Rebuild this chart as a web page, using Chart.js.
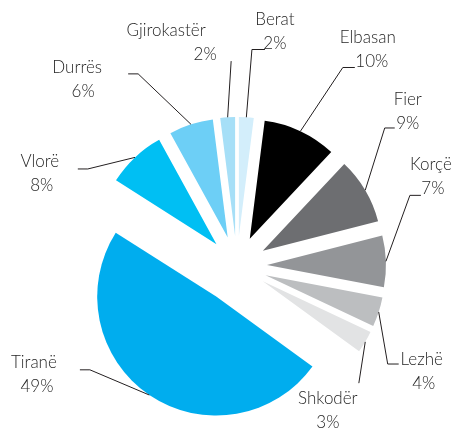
<!DOCTYPE html>
<html>
<head>
<meta charset="utf-8">
<script src="https://cdn.jsdelivr.net/npm/chart.js@4.4.0/dist/chart.umd.min.js"></script>
<style>
  html, body { margin: 0; padding: 0; background: #fff; }
  #wrap { width: 455px; height: 434px; }
</style>
</head>
<body>
<div id="wrap"><canvas id="myChart" width="455" height="434"></canvas></div>
<script>
const qarqet = ["Berat", "Elbasan", "Fier", "Korçë", "Lezhë", "Shkodër", "Tiranë", "Vlorë", "Durrës", "Gjirokastër"];
const perqindje = [2, 10, 9, 7, 4, 3, 49, 8, 6, 2];

const ngjyrat = ['#d3eefb', '#000000', '#6d6e71', '#939598', '#bcbec0', '#e2e3e4',
                 '#00adee', '#00bff3', '#6dcff6', '#a6dff7'];

// sa larg nga qendra del cdo pjese
function shkeputja(i) { return qarqet[i] === 'Tiranë' ? 37 : 30; }

// vendosja e etiketave: [kendi i berrylit, rrezja, vija horizontale, dx emri, dy emri, dx perqindja]
const etiketat = [
  [4, 187, 13, 10, -30, 10],
  [28.5, 195, 12, 13, -30, 17],
  [44.8, 173, 10, 13, -28, 13],
  [64, 159, 11, 10, -31, 12],
  [126, 151, 11, 23, -5, 25],
  [136.7, 140, 0, -31, 15, -31],
  [239.9, 146, -10, -46, -7, -43],
  [300.3, 149, -10, -38, -7, -36],
  [331.3, 186.5, -10, -51, -6, -45],
  [358.7, 175, 0, -65, -31, -26]
];

// offset-i i Chart.js v4 ndryshon edhe rrezen, keshtu qe e zhvendosim vete
const vizatoOrigjinal = Chart.ArcElement.prototype.draw;
Chart.ArcElement.prototype.draw = function(ctx) {
  const d = shkeputja(this.$context.dataIndex);
  const mid = (this.startAngle + this.endAngle) / 2;
  ctx.save();
  ctx.translate(Math.cos(mid) * d, Math.sin(mid) * d);
  vizatoOrigjinal.call(this, ctx);
  ctx.restore();
};

const pluginEtiketat = {
  id: 'etiketat',
  afterDatasetsDraw(chart) {
    const ctx = chart.ctx;
    const meta = chart.getDatasetMeta(0);
    ctx.save();
    ctx.strokeStyle = '#231f20';
    ctx.lineWidth = 1;
    ctx.fillStyle = '#262626';
    ctx.font = '300 17px Lato, "Open Sans", sans-serif';
    ctx.textAlign = 'center';
    ctx.textBaseline = 'middle';
    meta.data.forEach(function(arc, i) {
      const p = arc.getProps(['x', 'y', 'startAngle', 'endAngle', 'outerRadius'], true);
      const mid = (p.startAngle + p.endAngle) / 2;
      const off = shkeputja(i);
      const cx = p.x + Math.cos(mid) * off;
      const cy = p.y + Math.sin(mid) * off;
      const sx = cx + Math.cos(mid) * p.outerRadius;
      const sy = cy + Math.sin(mid) * p.outerRadius;
      const l = etiketat[i];
      const a = l[0] * Math.PI / 180 - Math.PI / 2;
      const ex = cx + Math.cos(a) * l[1];
      const ey = cy + Math.sin(a) * l[1];
      const hx = ex + l[2];
      ctx.beginPath();
      ctx.moveTo(sx, sy);
      ctx.lineTo(ex, ey);
      ctx.lineTo(hx, ey);
      ctx.stroke();
      ctx.fillText(qarqet[i], hx + l[3], ey + l[4]);
      ctx.fillText(perqindje[i] + '%', hx + l[5], ey + l[4] + 24);
    });
    ctx.restore();
  }
};

const data = {
  labels: qarqet,
  datasets: [{
    data: perqindje,
    backgroundColor: ngjyrat,
    borderWidth: 0
  }]
};

const config = {
  type: 'pie',
  data: data,
  options: {
    responsive: false,
    animation: false,
    radius: 119,
    layout: { padding: { left: 19, right: 0, top: 98, bottom: 0 } },
    plugins: {
      legend: { display: false },
      tooltip: { enabled: false }
    }
  },
  plugins: [pluginEtiketat]
};

var myChart = new Chart(document.getElementById('myChart'), config);
</script>
</body>
</html>
